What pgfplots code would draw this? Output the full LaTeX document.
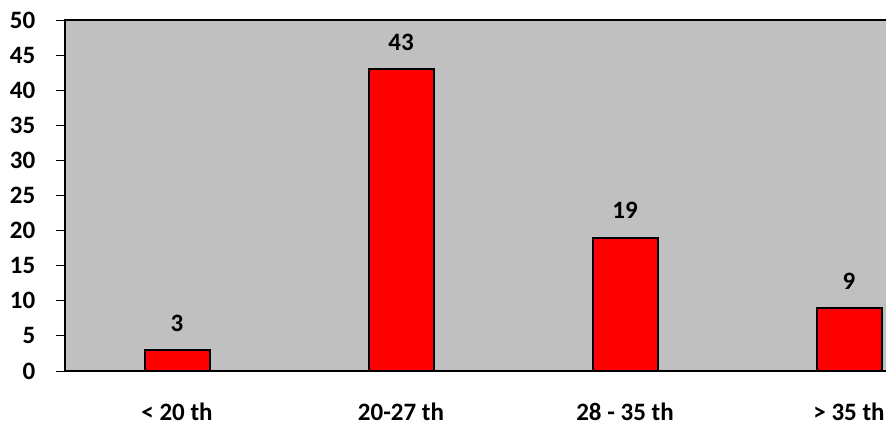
\documentclass[border=0pt]{standalone}
\usepackage{pgfplots}
\pgfplotsset{compat=1.18}
\usepackage{fontspec}
\setmainfont{Carlito}
\definecolor{plotgray}{HTML}{C0C0C0}
\definecolor{barred}{HTML}{FF0000}

\pgfplotstableread{
x  count
0  3
1  43
2  19
3  9
}\agedata

\newcommand{\chartfont}{\fontsize{12.5}{14}\selectfont\bfseries}

\begin{document}
\chartfont
\begin{tikzpicture}
  % visible frame of the figure
  \useasboundingbox (0pt,0pt) rectangle (443pt,212.5pt);
  \clip (0pt,0pt) rectangle (443pt,212.5pt);
  \begin{axis}[
    scale only axis,
    anchor=south west,
    at={(32.5pt,27pt)},
    width=448pt, height=175.5pt,
    xmin=-0.5, xmax=3.5,
    ymin=0, ymax=50,
    ytick={0,5,...,50},
    xtick={0,1,2,3},
    xticklabels={{< 20 th},{20-27 th},{28 - 35 th},{> 35 th}},
    major x tick style={draw=none},
    extra x ticks={-0.5,0.5,1.5,2.5,3.5},
    extra x tick labels={},
    extra x tick style={major tick length=4.5pt, tick style={black, line width=0.5pt}},
    tick align=outside,
    major tick length=4.5pt,
    ytick style={black, line width=0.5pt},
    tick pos=left,
    axis line style={black, line width=1pt},
    axis background/.style={fill=plotgray},
    /pgf/number format/assume math mode=true,
    yticklabel style={font=\chartfont, xshift=-6pt},
    xticklabel style={font=\chartfont, yshift=-7pt},
    ybar,
    bar width=32.5pt,
    nodes near coords,
    nodes near coords style={font=\chartfont, anchor=center, yshift=13.5pt, black},
    clip=false,
  ]
    \addplot[fill=barred, draw=black, line width=1pt] table[x=x, y=count] {\agedata};
  \end{axis}
\end{tikzpicture}
\end{document}
